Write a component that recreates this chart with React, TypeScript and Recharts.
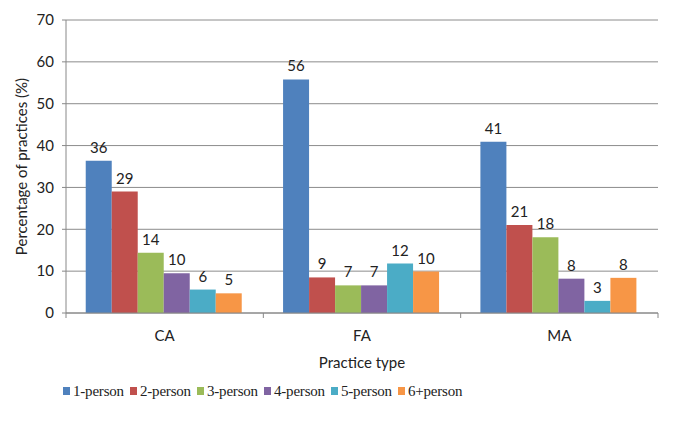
import React from 'react';
import {
  BarChart,
  Bar,
  XAxis,
  YAxis,
  CartesianGrid,
  Legend,
  LabelList,
} from 'recharts';

const categories = ['CA', 'FA', 'MA'];
const seriesNames = ['1-person', '2-person', '3-person', '4-person', '5-person', '6+person'];
const seriesColors = ['#4F81BD', '#C0504D', '#9BBB59', '#8064A2', '#4BACC6', '#F79646'];

const onePerson = [36.4, 55.8, 40.9];
const twoPerson = [29.0, 8.5, 21.0];
const threePerson = [14.4, 6.6, 18.1];
const fourPerson = [9.5, 6.6, 8.2];
const fivePerson = [5.6, 11.8, 2.9];
const sixPlusPerson = [4.7, 9.9, 8.4];

const yTicks = [0, 10, 20, 30, 40, 50, 60, 70];

const seriesValues = [onePerson, twoPerson, threePerson, fourPerson, fivePerson, sixPlusPerson];

const data = categories.map((cat, i) => {
  const row: Record<string, string | number> = { type: cat };
  seriesNames.forEach((name, s) => {
    row[name] = seriesValues[s][i];
  });
  return row;
});

const labelFont = 'Lato, "DejaVu Sans", sans-serif';

// category label in the middle, small tick marks on the band edges
function CategoryTick(props: any) {
  const { x, y, payload, index } = props;
  const half = payload?.offset ?? 0;
  const last = index === categories.length - 1;
  return (
    <g>
      <line x1={x - half} x2={x - half} y1={y} y2={y + 5} stroke="#888" />
      {last && <line x1={x + half} x2={x + half} y1={y} y2={y + 5} stroke="#888" />}
      <text x={x} y={y + 28} textAnchor="middle" fill="#222" fontSize={15} fontFamily={labelFont}>
        {payload.value}
      </text>
    </g>
  );
}

function LegendContent() {
  return (
    <div
      style={{
        display: 'flex',
        alignItems: 'center',
        height: 30,
        paddingLeft: 63,
        fontFamily: '"Liberation Serif", "Times New Roman", serif',
        fontSize: 15,
        letterSpacing: -0.2,
        color: '#222',
      }}
    >
      {seriesNames.map((name, i) => (
        <div key={name} style={{ display: 'flex', alignItems: 'center', width: 67, flexShrink: 0 }}>
          <span style={{ width: 7, height: 8, background: seriesColors[i], marginRight: 3, display: 'inline-block' }} />
          <span style={{ whiteSpace: 'nowrap' }}>{name}</span>
        </div>
      ))}
    </div>
  );
}

export default function App() {
  return (
    <div style={{ position: 'absolute', left: 0, top: 0, width: 675, height: 421, background: '#fff' }}>
      <BarChart
        width={675}
        height={421}
        data={data}
        margin={{ top: 20, right: 17, left: 0, bottom: 15 }}
        barCategoryGap="10%"
        barGap={0}
      >
        <CartesianGrid vertical={false} stroke="#8c8c8c" strokeDasharray="0" />
        <XAxis
          dataKey="type"
          height={63}
          axisLine={{ stroke: '#888' }}
          tickLine={false}
          tickSize={0}
          tickMargin={0}
          tick={<CategoryTick />}
          interval={0}
          label={{
            value: 'Practice type',
            position: 'insideBottom',
            offset: 8,
            fill: '#222',
            fontSize: 15,
            fontFamily: labelFont,
          }}
        />
        <YAxis
          width={66}
          domain={[0, 70]}
          ticks={yTicks}
          interval={0}
          axisLine={{ stroke: '#888' }}
          tickLine={{ stroke: '#888' }}
          tickSize={4}
          tickMargin={8}
          tick={{ fill: '#222', fontSize: 15, fontFamily: labelFont }}
          label={{
            value: 'Percentage of practices (%)',
            angle: -90,
            position: 'insideLeft',
            offset: 22,
            fill: '#222',
            fontSize: 15,
            fontFamily: labelFont,
            style: { textAnchor: 'middle' },
          }}
        />
        <Legend verticalAlign="bottom" content={<LegendContent />} wrapperStyle={{ left: 0, width: 675, height: 30 }} />
        {seriesNames.map((name, i) => (
          <Bar key={name} dataKey={name} fill={seriesColors[i]} isAnimationActive={false}>
            <LabelList
              dataKey={name}
              position="top"
              offset={8}
              formatter={(v: any) => Math.round(Number(v))}
              fill="#222"
              fontSize={15}
              fontFamily={labelFont}
            />
          </Bar>
        ))}
      </BarChart>
    </div>
  );
}
